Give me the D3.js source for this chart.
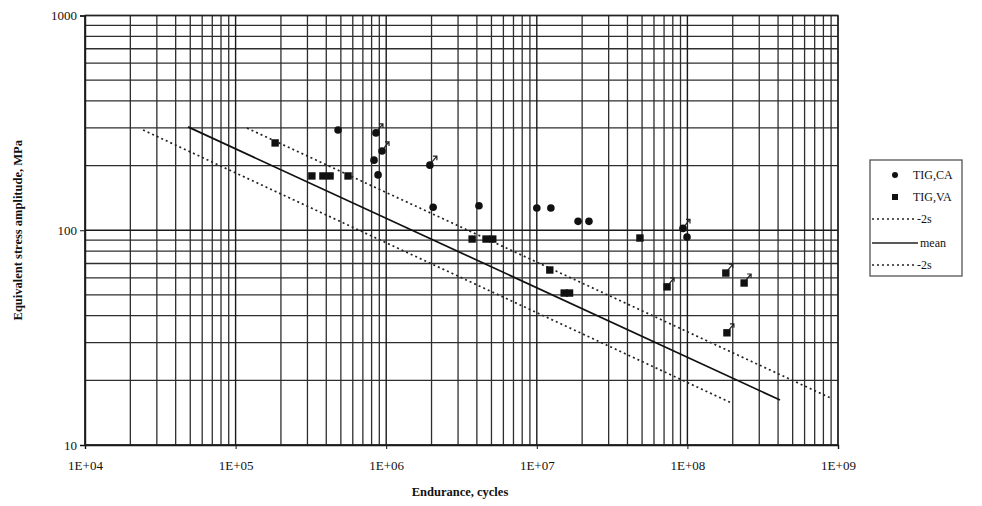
<!DOCTYPE html>
<html><head><meta charset="utf-8">
<script src="https://cdn.jsdelivr.net/npm/d3@7"></script>
<style>body{margin:0;background:#fff}svg{display:block}text{font-family:"Liberation Serif","Times New Roman",serif;fill:#111}</style>
</head><body><svg id="c" width="982" height="506"></svg>
<script>
// ---- data ----
const caCycles = [4.79e5, 8.55e5, 9.38e5, 8.3e5, 8.83e5, 1.95e6, 2.05e6, 4.13e6, 1.0e7, 1.24e7, 1.88e7, 2.22e7, 9.35e7, 9.94e7];
const caStress = [293, 284, 234, 212, 181, 201, 128, 130, 127, 127, 110, 110, 102, 93];
const caRunout = [false, true, true, false, false, true, false, false, false, false, false, false, true, false];
const vaCycles = [1.83e5, 3.21e5, 3.8e5, 4.24e5, 5.58e5, 3.72e6, 4.6e6, 5.1e6, 1.22e7, 1.52e7, 1.65e7, 4.84e7, 7.33e7, 1.8e8, 2.38e8, 1.83e8];
const vaStress = [255, 179, 179, 179, 179, 91, 91, 91, 65.3, 51, 51, 92, 54.5, 63.2, 56.8, 33.3];
const vaRunout = [false, false, false, false, false, false, false, false, false, false, false, false, true, true, true, true];
const upperLine = [[1.19e5, 299], [8.85e8, 16.6]];
const meanLine = [[4.83e4, 303], [4.12e8, 16.2]];
const lowerLine = [[2.43e4, 293], [1.92e8, 15.8]];
const xTicks = [1e4, 1e5, 1e6, 1e7, 1e8, 1e9];
const xTickLabels = ["1E+04", "1E+05", "1E+06", "1E+07", "1E+08", "1E+09"];
const yTicks = [10, 100, 1000];
const yTickLabels = ["10", "100", "1000"];
const legendLabels = ["TIG,CA", "TIG,VA", "-2s", "mean", "-2s"];
const xTitle = "Endurance, cycles";
const yTitle = "Equivalent stress amplitude, MPa";

// ---- chart ----
const svg = d3.select("#c");
const L = 85, R = 838, T = 15.5, B = 445;
const x = d3.scaleLog().domain([1e4, 1e9]).range([L, R]);
const y = d3.scaleLog().domain([10, 1000]).range([B, T]);

// grid
const g = svg.append("g");
const xGrid = [], yGrid = [];
for (let d = 1e4; d < 1e9; d *= 10) for (let k = 2; k <= 9; k++) xGrid.push(d * k);
for (let d = 10; d < 1000; d *= 10) for (let k = 2; k <= 9; k++) yGrid.push(d * k);
g.selectAll(".vg").data(xGrid).join("line").attr("x1", d => x(d)).attr("x2", d => x(d))
  .attr("y1", T).attr("y2", B).attr("stroke", "#2e2e2e").attr("stroke-width", 1.3);
g.selectAll(".hg").data(yGrid).join("line").attr("y1", d => y(d)).attr("y2", d => y(d))
  .attr("x1", L).attr("x2", R).attr("stroke", "#2e2e2e").attr("stroke-width", 1.3);
g.selectAll(".vm").data(xTicks).join("line").attr("x1", d => x(d)).attr("x2", d => x(d))
  .attr("y1", T).attr("y2", B).attr("stroke", "#1a1a1a").attr("stroke-width", 1.4);
g.selectAll(".hm").data(yTicks).join("line").attr("y1", d => y(d)).attr("y2", d => y(d))
  .attr("x1", L).attr("x2", R).attr("stroke", "#1a1a1a").attr("stroke-width", 1.5);

// axes
const xAxis = d3.axisBottom(x).tickValues(xTicks).tickFormat((d, i) => xTickLabels[i]).tickSize(4).tickPadding(12);
const yAxis = d3.axisLeft(y).tickValues(yTicks).tickFormat((d, i) => yTickLabels[i]).tickSize(5).tickPadding(3);
const xa = svg.append("g").attr("transform", `translate(0,${B})`).call(xAxis);
const ya = svg.append("g").attr("transform", `translate(${L},0)`).call(yAxis);
[xa, ya].forEach(a => {
  a.select(".domain").attr("stroke", "#111").attr("stroke-width", 1.4);
  a.selectAll(".tick line").attr("stroke", "#111");
  a.selectAll("text").style("font-family", '"Liberation Serif",serif').attr("fill", "#222");
});
xa.selectAll("text").style("font-size", "13px");
ya.selectAll("text").style("font-size", "13px");
svg.append("rect").attr("x", L).attr("y", T).attr("width", R - L).attr("height", B - T)
  .attr("fill", "none").attr("stroke", "#222").attr("stroke-width", 1.3);

svg.append("text").attr("x", 460).attr("y", 496).attr("text-anchor", "middle")
  .style("font-size", "12.5px").style("font-weight", "bold").text(xTitle);
svg.append("text").attr("transform", `translate(22,${(T + B) / 2}) rotate(-90)`).attr("text-anchor", "middle")
  .style("font-size", "12.5px").style("font-weight", "bold").text(yTitle);

// regression lines
const line = d3.line().x(d => x(d[0])).y(d => y(d[1]));
svg.append("path").attr("d", line(upperLine)).attr("fill", "none").attr("stroke", "#222")
  .attr("stroke-width", 1.7).attr("stroke-dasharray", "2,3");
svg.append("path").attr("d", line(lowerLine)).attr("fill", "none").attr("stroke", "#222")
  .attr("stroke-width", 1.7).attr("stroke-dasharray", "2,3");
svg.append("path").attr("d", line(meanLine)).attr("fill", "none").attr("stroke", "#111").attr("stroke-width", 1.7);

// points
const ca = caCycles.map((c, i) => ({c, s: caStress[i], r: caRunout[i]}));
const va = vaCycles.map((c, i) => ({c, s: vaStress[i], r: vaRunout[i]}));
svg.append("g").selectAll("circle").data(ca).join("circle")
  .attr("cx", d => x(d.c)).attr("cy", d => y(d.s)).attr("r", 3.8).attr("fill", "#111");
svg.append("g").selectAll("rect").data(va).join("rect")
  .attr("x", d => x(d.c) - 3.7).attr("y", d => y(d.s) - 3.7).attr("width", 7.4).attr("height", 7.4).attr("fill", "#111");
const runs = ca.concat(va).filter(d => d.r);
const ar = svg.append("g").attr("stroke", "#222").attr("fill", "none").attr("stroke-width", 1.2);
runs.forEach(d => {
  const px = x(d.c), py = y(d.s);
  ar.append("path").attr("d", `M${px + 2},${py - 3} L${px + 7},${py - 9} M${px + 3},${py - 9} L${px + 7},${py - 9} L${px + 7},${py - 5}`);
});

// legend
const lg = svg.append("g");
lg.append("rect").attr("x", 870).attr("y", 160).attr("width", 92).attr("height", 116)
  .attr("fill", "#fff").attr("stroke", "#555").attr("stroke-width", 1.3);
const rows = [175, 197, 219, 243, 265];
lg.append("circle").attr("cx", 895).attr("cy", rows[0]).attr("r", 3).attr("fill", "#111");
lg.append("rect").attr("x", 892).attr("y", rows[1] - 3).attr("width", 6).attr("height", 6).attr("fill", "#111");
lg.append("line").attr("x1", 872).attr("x2", 916).attr("y1", rows[2]).attr("y2", rows[2])
  .attr("stroke", "#222").attr("stroke-width", 1.5).attr("stroke-dasharray", "2,3");
lg.append("line").attr("x1", 872).attr("x2", 918).attr("y1", rows[3]).attr("y2", rows[3])
  .attr("stroke", "#222").attr("stroke-width", 1.5);
lg.append("line").attr("x1", 872).attr("x2", 916).attr("y1", rows[4]).attr("y2", rows[4])
  .attr("stroke", "#222").attr("stroke-width", 1.5).attr("stroke-dasharray", "2,3");
const tx = [913, 913, 917, 920, 917];
legendLabels.forEach((t, i) => {
  lg.append("text").attr("x", tx[i]).attr("y", rows[i] + 4).style("font-size", "12px").text(t);
});
</script></body></html>
